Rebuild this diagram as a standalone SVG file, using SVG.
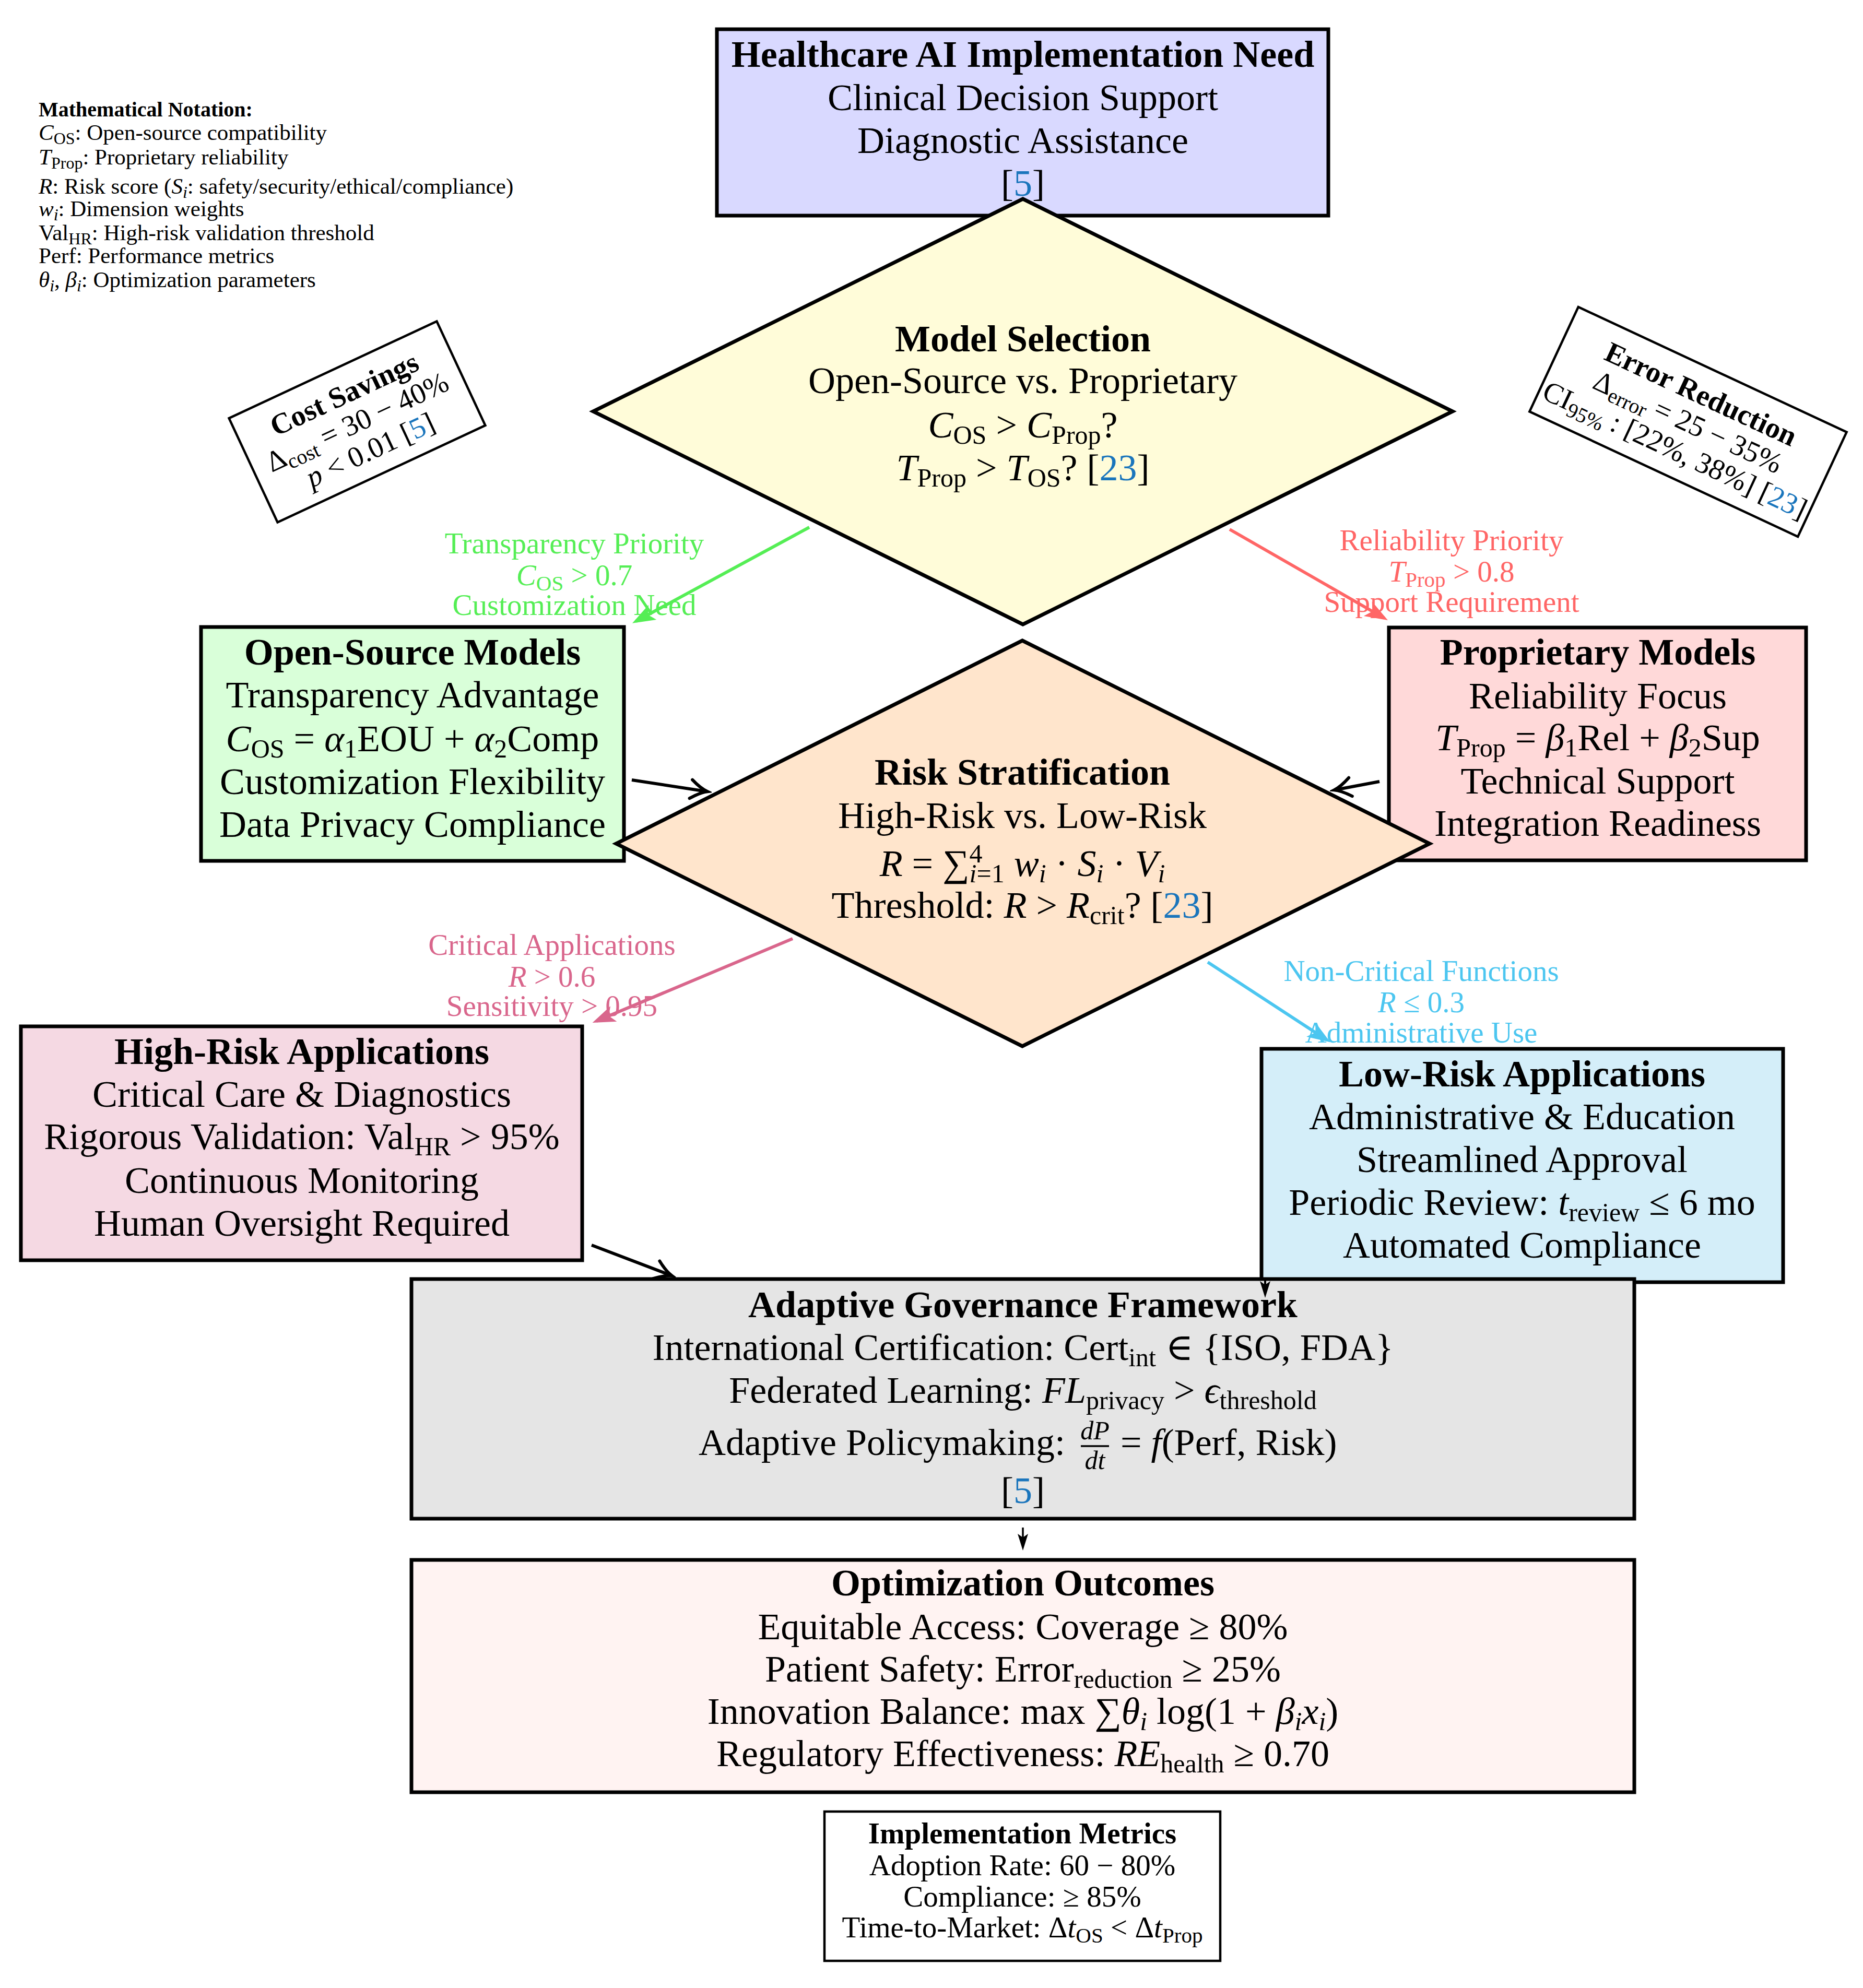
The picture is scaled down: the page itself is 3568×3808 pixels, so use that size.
<svg xmlns="http://www.w3.org/2000/svg" width="3568" height="3808" viewBox="0 0 3568 3808">
<style>
text{font-family:"Liberation Serif","DejaVu Serif",serif;fill:#000}
.t{font-size:72px;text-anchor:middle}
.te{font-size:72px;text-anchor:end}
.ts{font-size:72px;text-anchor:start}
.fr{font-size:50px;font-style:italic;text-anchor:middle}
.b{font-weight:bold}
.i{font-style:italic}
.s{font-size:50px;baseline-shift:-12px}
.p{font-size:50px;baseline-shift:26px}
.l{font-size:57px;text-anchor:middle}
.s2{font-size:41px;baseline-shift:-10px}
.r{font-size:56px;text-anchor:middle}
.s3{font-size:40px;baseline-shift:-10px}
.n{font-size:43px;text-anchor:start}
.nb{font-size:40px;font-weight:bold;text-anchor:start}
.s4{font-size:32px;baseline-shift:-8px}
.ref{fill:#1A75BC}
.box{stroke:#000;stroke-width:7}
.thin{stroke:#000;stroke-width:4.5;fill:#fff}
.cg{fill:#55EE55}
.cr{fill:#FF6666}
.cp{fill:#D9668C}
.cc{fill:#4CC6F0}
</style>
<defs>
<marker id="mg" viewBox="-50 -22 60 44" refX="0" refY="0" markerWidth="60" markerHeight="44" markerUnits="userSpaceOnUse" orient="auto"><path d="M8,0 L-36,-16 L-26,0 L-36,16 Z" fill="#55EE55"/></marker>
<marker id="mr" viewBox="-50 -22 60 44" refX="0" refY="0" markerWidth="60" markerHeight="44" markerUnits="userSpaceOnUse" orient="auto"><path d="M8,0 L-36,-16 L-26,0 L-36,16 Z" fill="#FF6666"/></marker>
<marker id="mp" viewBox="-50 -22 60 44" refX="0" refY="0" markerWidth="60" markerHeight="44" markerUnits="userSpaceOnUse" orient="auto"><path d="M8,0 L-36,-16 L-26,0 L-36,16 Z" fill="#D9668C"/></marker>
<marker id="mc" viewBox="-50 -22 60 44" refX="0" refY="0" markerWidth="60" markerHeight="44" markerUnits="userSpaceOnUse" orient="auto"><path d="M8,0 L-36,-16 L-26,0 L-36,16 Z" fill="#4CC6F0"/></marker>
<marker id="mb" viewBox="-40 -24 50 48" refX="0" refY="0" markerWidth="50" markerHeight="48" markerUnits="userSpaceOnUse" orient="auto"><path d="M-30,-18 Q-12,-4 2,0 Q-12,4 -30,18" fill="none" stroke="#000" stroke-width="6" stroke-linecap="round"/></marker>
<marker id="mk" viewBox="-36 -14 44 28" refX="0" refY="0" markerWidth="44" markerHeight="28" markerUnits="userSpaceOnUse" orient="auto"><path d="M6,0 L-26,-10 L-19,0 L-26,10 Z" fill="#000"/></marker>
</defs>

<g id="n-notation">
<text class="nb" x="74" y="223">Mathematical Notation:</text>
<text class="n" x="74" y="268"><tspan class="i">C</tspan><tspan class="s4">OS</tspan>: Open-source compatibility</text>
<text class="n" x="74" y="315"><tspan class="i">T</tspan><tspan class="s4">Prop</tspan>: Proprietary reliability</text>
<text class="n" x="74" y="371"><tspan class="i">R</tspan>: Risk score (<tspan class="i">S</tspan><tspan class="s4 i">i</tspan>: safety/security/ethical/compliance)</text>
<text class="n" x="74" y="414"><tspan class="i">w</tspan><tspan class="s4 i">i</tspan>: Dimension weights</text>
<text class="n" x="74" y="460">Val<tspan class="s4">HR</tspan>: High-risk validation threshold</text>
<text class="n" x="74" y="504">Perf: Performance metrics</text>
<text class="n" x="74" y="550"><tspan class="i">θ</tspan><tspan class="s4 i">i</tspan>, <tspan class="i">β</tspan><tspan class="s4 i">i</tspan>: Optimization parameters</text>
</g>

<g id="n-need">
<rect class="box" x="1373" y="56" width="1171" height="357" fill="#D9D9FF"/>
<text class="t b" x="1959" y="128">Healthcare AI Implementation Need</text>
<text class="t" x="1959" y="211">Clinical Decision Support</text>
<text class="t" x="1959" y="293">Diagnostic Assistance</text>
<text class="t" x="1959" y="375">[<tspan class="ref">5</tspan>]</text>
</g>

<g id="n-model">
<polygon class="box" points="1959,381 2782,788 1959,1196 1136,788" fill="#FFFCD9"/>
<text class="t b" x="1959" y="673">Model Selection</text>
<text class="t" x="1959" y="753">Open-Source vs. Proprietary</text>
<text class="t" x="1959" y="838"><tspan class="i">C</tspan><tspan class="s">OS</tspan> &gt; <tspan class="i">C</tspan><tspan class="s">Prop</tspan>?</text>
<text class="t" x="1959" y="920"><tspan class="i">T</tspan><tspan class="s">Prop</tspan> &gt; <tspan class="i">T</tspan><tspan class="s">OS</tspan>? [<tspan class="ref">23</tspan>]</text>
</g>

<g id="n-cost" transform="translate(684,808) rotate(-25)">
<rect class="thin" x="-219.5" y="-110" width="439" height="220"/>
<text class="r b" x="0" y="-40">Cost Savings</text>
<text class="r" x="0" y="19">Δ<tspan class="s3">cost</tspan> = 30 − 40%</text>
<text class="r" x="0" y="78"><tspan class="i">p</tspan> &lt; 0.01 [<tspan class="ref">5</tspan>]</text>
</g>

<g id="n-error" transform="translate(3233,808) rotate(25)">
<rect class="thin" x="-283.5" y="-110.5" width="567" height="221"/>
<text class="r b" x="0" y="-40">Error Reduction</text>
<text class="r" x="0" y="19">Δ<tspan class="s3">error</tspan> = 25 − 35%</text>
<text class="r" x="0" y="78">CI<tspan class="s3">95%</tspan> : [22%, 38%] [<tspan class="ref">23</tspan>]</text>
</g>

<g id="n-os">
<rect class="box" x="385" y="1201" width="810" height="448" fill="#D9FFD9"/>
<text class="t b" x="790" y="1273">Open-Source Models</text>
<text class="t" x="790" y="1355">Transparency Advantage</text>
<text class="t" x="790" y="1439"><tspan class="i">C</tspan><tspan class="s">OS</tspan> = <tspan class="i">α</tspan><tspan class="s">1</tspan>EOU + <tspan class="i">α</tspan><tspan class="s">2</tspan>Comp</text>
<text class="t" x="790" y="1521">Customization Flexibility</text>
<text class="t" x="790" y="1603">Data Privacy Compliance</text>
</g>

<g id="n-prop">
<rect class="box" x="2660" y="1202" width="799" height="446" fill="#FFD9D9"/>
<text class="t b" x="3060" y="1273">Proprietary Models</text>
<text class="t" x="3060" y="1357">Reliability Focus</text>
<text class="t" x="3060" y="1437"><tspan class="i">T</tspan><tspan class="s">Prop</tspan> = <tspan class="i">β</tspan><tspan class="s">1</tspan>Rel + <tspan class="i">β</tspan><tspan class="s">2</tspan>Sup</text>
<text class="t" x="3060" y="1520">Technical Support</text>
<text class="t" x="3060" y="1601">Integration Readiness</text>
</g>

<g id="n-risk">
<polygon class="box" points="1958,1227 2738,1616 1958,2004 1180,1616" fill="#FFE5CC"/>
<text class="t b" x="1958" y="1503">Risk Stratification</text>
<text class="t" x="1958" y="1586">High-Risk vs. Low-Risk</text>
<text class="t" x="1958" y="1678"><tspan class="i">R</tspan> = ∑<tspan class="p">4</tspan><tspan class="s i" dx="-25">i</tspan><tspan class="s">=1</tspan> <tspan class="i">w</tspan><tspan class="s i">i</tspan> · <tspan class="i">S</tspan><tspan class="s i">i</tspan> · <tspan class="i">V</tspan><tspan class="s i">i</tspan></text>
<text class="t" x="1958" y="1758">Threshold: <tspan class="i">R</tspan> &gt; <tspan class="i">R</tspan><tspan class="s">crit</tspan>? [<tspan class="ref">23</tspan>]</text>
</g>

<g id="n-high">
<rect class="box" x="40" y="1966" width="1075" height="448" fill="#F5D9E3"/>
<text class="t b" x="578" y="2038">High-Risk Applications</text>
<text class="t" x="578" y="2120">Critical Care &amp; Diagnostics</text>
<text class="t" x="578" y="2201">Rigorous Validation: Val<tspan class="s">HR</tspan> &gt; 95%</text>
<text class="t" x="578" y="2285">Continuous Monitoring</text>
<text class="t" x="578" y="2367">Human Oversight Required</text>
</g>

<g id="n-low">
<rect class="box" x="2416" y="2009" width="999" height="447" fill="#D4EEF9"/>
<text class="t b" x="2915" y="2081">Low-Risk Applications</text>
<text class="t" x="2915" y="2163">Administrative &amp; Education</text>
<text class="t" x="2915" y="2245">Streamlined Approval</text>
<text class="t" x="2915" y="2327">Periodic Review: <tspan class="i">t</tspan><tspan class="s">review</tspan> ≤ 6 mo</text>
<text class="t" x="2915" y="2409">Automated Compliance</text>
</g>

<g id="n-gov">
<rect class="box" x="788" y="2450" width="2342" height="459" fill="#E5E5E5"/>
<text class="t b" x="1959" y="2523">Adaptive Governance Framework</text>
<text class="t" x="1959" y="2605">International Certification: Cert<tspan class="s">int</tspan> ∈ {ISO, FDA}</text>
<text class="t" x="1959" y="2687">Federated Learning: <tspan class="i">FL</tspan><tspan class="s">privacy</tspan> &gt; <tspan class="i">ϵ</tspan><tspan class="s">threshold</tspan></text>
<text class="te" x="2040" y="2787">Adaptive Policymaking:</text>
<text class="fr" x="2097" y="2757">dP</text>
<line x1="2070" y1="2770" x2="2124" y2="2770" stroke="#000" stroke-width="3.5"/>
<text class="fr" x="2097" y="2814">dt</text>
<text class="ts" x="2146" y="2787">= <tspan class="i">f</tspan>(Perf, Risk)</text>
<text class="t" x="1959" y="2879">[<tspan class="ref">5</tspan>]</text>
</g>

<g id="n-out">
<rect class="box" x="788" y="2988" width="2342" height="445" fill="#FFF3F2"/>
<text class="t b" x="1959" y="3056">Optimization Outcomes</text>
<text class="t" x="1959" y="3140">Equitable Access: Coverage ≥ 80%</text>
<text class="t" x="1959" y="3221">Patient Safety: Error<tspan class="s">reduction</tspan> ≥ 25%</text>
<text class="t" x="1959" y="3302">Innovation Balance: max ∑<tspan class="i">θ</tspan><tspan class="s i">i</tspan> log(1 + <tspan class="i">β</tspan><tspan class="s i">i</tspan><tspan class="i">x</tspan><tspan class="s i">i</tspan>)</text>
<text class="t" x="1959" y="3383">Regulatory Effectiveness: <tspan class="i">RE</tspan><tspan class="s">health</tspan> ≥ 0.70</text>
</g>

<g id="n-metrics">
<rect class="thin" x="1579" y="3470" width="758" height="286"/>
<text class="l b" x="1958" y="3531">Implementation Metrics</text>
<text class="l" x="1958" y="3592">Adoption Rate: 60 − 80%</text>
<text class="l" x="1958" y="3652">Compliance: ≥ 85%</text>
<text class="l" x="1958" y="3711">Time-to-Market: Δ<tspan class="i">t</tspan><tspan class="s2">OS</tspan> &lt; Δ<tspan class="i">t</tspan><tspan class="s2">Prop</tspan></text>
</g>

<g id="connectors">
<line x1="1550" y1="1010" x2="1218" y2="1190" stroke="#55EE55" stroke-width="6" marker-end="url(#mg)"/>
<line x1="2355" y1="1014" x2="2651" y2="1184" stroke="#FF6666" stroke-width="6" marker-end="url(#mr)"/>
<line x1="1518" y1="1798" x2="1142" y2="1956" stroke="#D9668C" stroke-width="6" marker-end="url(#mp)"/>
<line x1="2313" y1="1843" x2="2541" y2="1992" stroke="#4CC6F0" stroke-width="6" marker-end="url(#mc)"/>
<line x1="1210" y1="1494" x2="1353" y2="1516" stroke="#000" stroke-width="6" marker-end="url(#mb)"/>
<line x1="2642" y1="1497" x2="2557" y2="1513" stroke="#000" stroke-width="6" marker-end="url(#mb)"/>
<line x1="1133" y1="2385" x2="1285" y2="2443" stroke="#000" stroke-width="6" marker-end="url(#mb)"/>
<line x1="2423" y1="2452" x2="2423" y2="2480" stroke="#000" stroke-width="4" marker-end="url(#mk)"/>
<line x1="1959" y1="2926" x2="1959" y2="2964" stroke="#000" stroke-width="3.5" marker-end="url(#mk)"/>
<g id="edge-labels">
<text class="l cg" x="1100" y="1060">Transparency Priority</text>
<text class="l cg" x="1100" y="1121"><tspan class="i">C</tspan><tspan class="s2">OS</tspan> &gt; 0.7</text>
<text class="l cg" x="1100" y="1178">Customization Need</text>
<text class="l cr" x="2780" y="1054">Reliability Priority</text>
<text class="l cr" x="2780" y="1114"><tspan class="i">T</tspan><tspan class="s2">Prop</tspan> &gt; 0.8</text>
<text class="l cr" x="2780" y="1172">Support Requirement</text>
<text class="l cp" x="1057" y="1829">Critical Applications</text>
<text class="l cp" x="1057" y="1890"><tspan class="i">R</tspan> &gt; 0.6</text>
<text class="l cp" x="1057" y="1946">Sensitivity &gt; 0.95</text>
<text class="l cc" x="2722" y="1879">Non-Critical Functions</text>
<text class="l cc" x="2722" y="1939"><tspan class="i">R</tspan> ≤ 0.3</text>
<text class="l cc" x="2722" y="1997">Administrative Use</text>
</g>
</g>
</svg>
